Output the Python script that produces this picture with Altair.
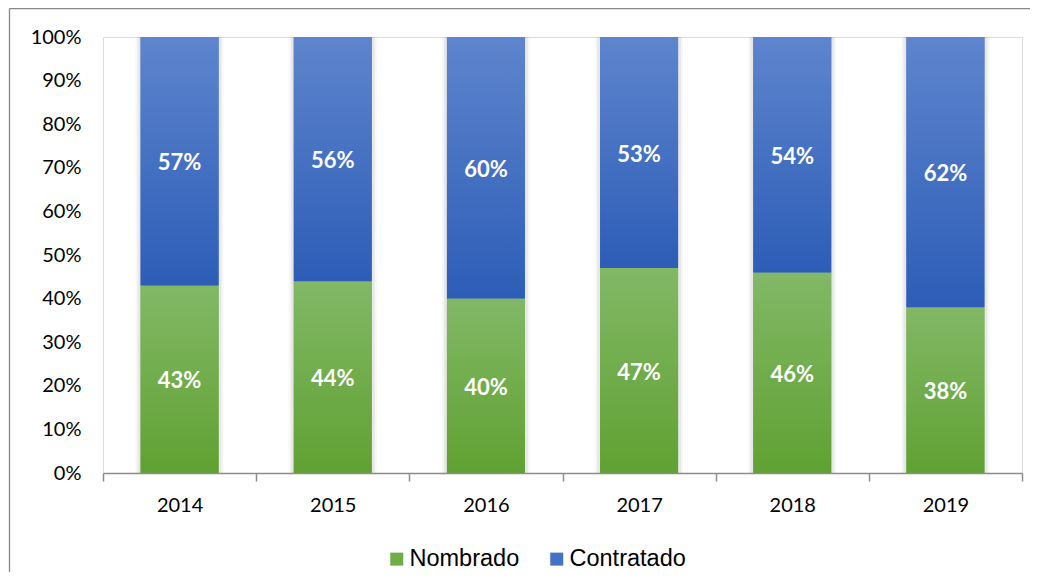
import altair as alt
import pandas as pd

years = ["2014", "2015", "2016", "2017", "2018", "2019"]
nombrado = [43, 44, 40, 47, 46, 38]
contratado = [57, 56, 60, 53, 54, 62]
series_names = ["Nombrado", "Contratado"]

rows = []
for yr, n, c in zip(years, nombrado, contratado):
    rows.append({"year": yr, "series": "Nombrado", "value": n, "y0": 0, "y1": n / 100})
    rows.append({"year": yr, "series": "Contratado", "value": c, "y0": n / 100, "y1": (n + c) / 100})
df = pd.DataFrame(rows)
df["mid"] = (df["y0"] + df["y1"]) / 2
df["label"] = df["value"].astype(str) + "%"

W, H = 919, 436
BAR = 78

xscale = alt.Scale(paddingInner=0, paddingOuter=0)
xenc = alt.X(
    "year:N",
    sort=years,
    scale=xscale,
    axis=alt.Axis(
        title=None, labelAngle=0, tickBand="extent", tickSize=8, ticks=True,
        tickColor="#8c8c8c", tickWidth=1.5, domainColor="#8c8c8c", domainWidth=1.5,
        labelFont="Lato", labelFontSize=20, labelColor="#000000", labelPadding=14,
        grid=False, zindex=1,
    ),
)
yscale = alt.Scale(domain=[0, 1])
yenc = alt.Y(
    "y0:Q",
    scale=yscale,
    axis=alt.Axis(
        title=None, format="%", values=[i / 10 for i in range(11)], domain=False,
        ticks=False, grid=False, labelFont="Lato", labelFontSize=20,
        labelColor="#000000", labelPadding=22, zindex=1,
    ),
)

base = alt.Chart(df)
one = pd.DataFrame({"k": [0]})

frame_top = alt.Chart(one).mark_rule(color="#878787", strokeWidth=1.3).encode(
    x=alt.value(-93.5), x2=alt.value(W + 8), y=alt.value(-28.5)
)
frame_left = alt.Chart(one).mark_rule(color="#878787", strokeWidth=1.3).encode(
    x=alt.value(-93.5), y=alt.value(-28.5), y2=alt.value(H + 99)
)

shadow1 = base.mark_bar(size=BAR + 10, color="#000000", opacity=0.03).encode(
    x=xenc, y=yenc, y2="y1:Q"
)
shadow2 = base.mark_bar(size=BAR + 6, color="#000000", opacity=0.06).encode(
    x=xenc, y=yenc, y2="y1:Q"
)

bars = base.mark_bar(size=BAR).encode(
    x=xenc,
    y=yenc,
    y2="y1:Q",
    color=alt.Color(
        "series:N",
        scale=alt.Scale(domain=series_names, range=["#70AD47", "#4472C4"]),
        legend=alt.Legend(
            title=None, orient="none", legendX=282, legendY=510, direction="horizontal",
            symbolType="square", symbolSize=169, symbolStrokeWidth=0,
            labelFont="Liberation Sans", labelFontSize=23.5, labelColor="#000000",
            labelOffset=1, columnPadding=25, padding=0,
        ),
    ),
)

green_grad = alt.Gradient(
    gradient="linear", x1=0, x2=0, y1=0, y2=1,
    stops=[alt.GradientStop(color="#82b866", offset=0), alt.GradientStop(color="#60a132", offset=1)],
)
blue_grad = alt.Gradient(
    gradient="linear", x1=0, x2=0, y1=0, y2=1,
    stops=[alt.GradientStop(color="#5e85cd", offset=0), alt.GradientStop(color="#2d5db7", offset=1)],
)

gbars = base.transform_filter(alt.datum.series == "Nombrado").mark_bar(size=BAR, color=green_grad).encode(
    x=xenc, y=yenc, y2="y1:Q"
)
bbars = base.transform_filter(alt.datum.series == "Contratado").mark_bar(size=BAR, color=blue_grad).encode(
    x=xenc, y=yenc, y2="y1:Q"
)

labels = base.mark_text(
    font="Lato", fontSize=22, fontWeight="bold", color="white", baseline="middle", dy=2
).encode(
    x=alt.X("year:N", sort=years, scale=xscale),
    y=alt.Y("mid:Q", scale=yscale),
    text="label:N",
)

chart = alt.layer(frame_top, frame_left, shadow1, shadow2, bars, gbars, bbars, labels).properties(
    width=W,
    height=H,
    padding={"left": 95, "top": 29, "right": 8, "bottom": 99},
    autosize=alt.AutoSizeParams(type="none"),
).configure_view(stroke=None).configure(background="white")

chart.save("out.html", embed_options={"renderer": "svg", "actions": False})
